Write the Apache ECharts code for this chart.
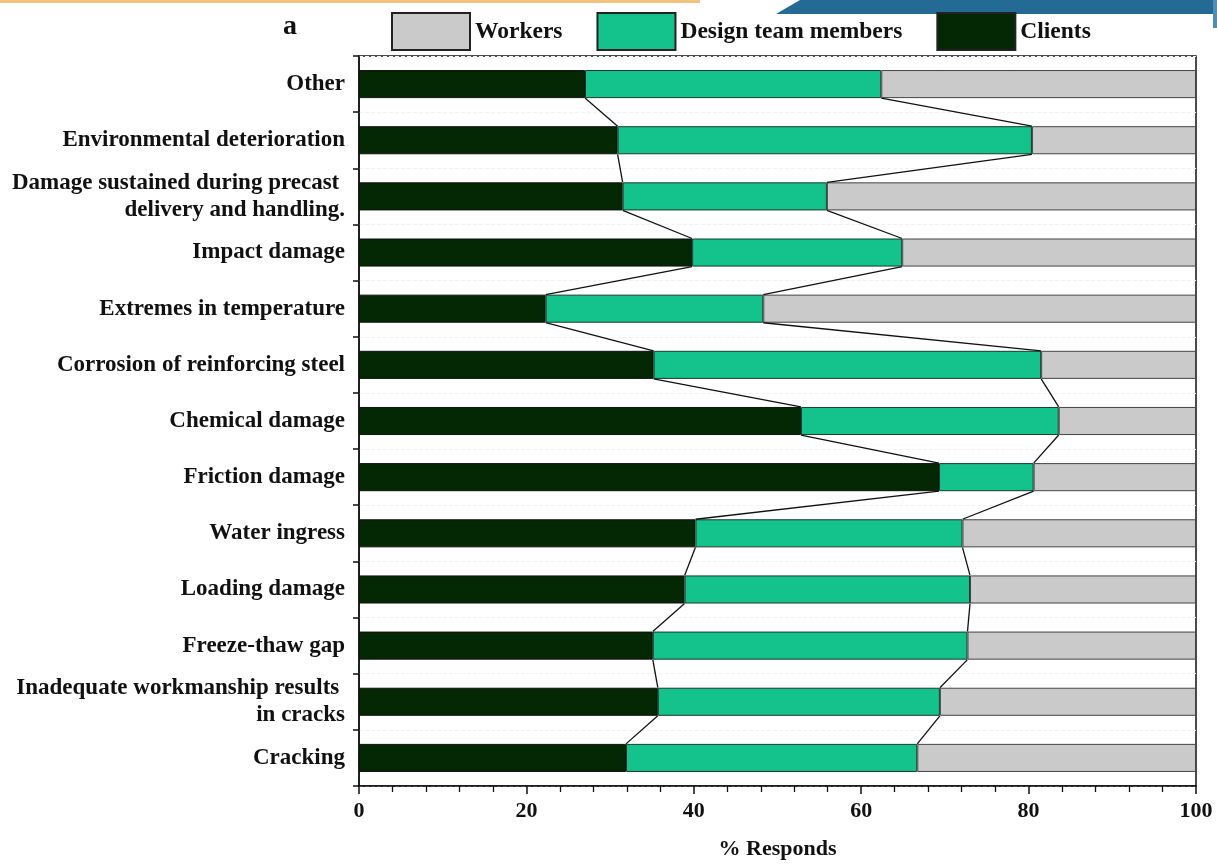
<!DOCTYPE html>
<html>
<head>
<meta charset="utf-8">
<script src="https://cdn.jsdelivr.net/npm/echarts@6/dist/echarts.min.js"></script>
<style>
  html, body { margin: 0; padding: 0; background: #fff; }
  #chart { width: 1217px; height: 865px; }
</style>
</head>
<body>
<div id="chart"></div>
<script>
// categories, top to bottom
var categories = [
  'Other',
  'Environmental deterioration',
  'Damage sustained during precast \ndelivery and handling.',
  'Impact damage',
  'Extremes in temperature',
  'Corrosion of reinforcing steel',
  'Chemical damage',
  'Friction damage',
  'Water ingress',
  'Loading damage',
  'Freeze-thaw gap',
  'Inadequate workmanship results \nin cracks',
  'Cracking'
];

// % responds per group
var clients = [27.0, 30.9, 31.5, 39.8, 22.3, 35.2, 52.8, 69.3, 40.2, 38.9, 35.1, 35.7, 31.9];
var designTeam = [35.4, 49.5, 24.4, 25.1, 26.0, 46.3, 30.8, 11.3, 31.9, 34.1, 37.6, 33.7, 34.8];
var workers = [37.6, 19.6, 44.1, 35.1, 51.7, 18.5, 16.4, 19.4, 27.9, 27.0, 27.3, 30.6, 33.3];

var xTicks = [0, 20, 40, 60, 80, 100];

// series lines between neighbouring bars (excel style)
function seriesLines(bound) {
  var out = [];
  for (var i = 0; i < bound.length - 1; i++) {
    out.push([bound[i], bound[i + 1], i, i + 1]);
  }
  return out;
}
var bound1 = clients.slice();
var bound2 = clients.map(function (v, i) { return v + designTeam[i]; });

var font = '"Liberation Serif", "Times New Roman", serif';

function renderLine(params, api) {
  var p0 = api.coord([api.value(0), api.value(2)]);
  var p1 = api.coord([api.value(1), api.value(3)]);
  var h = api.size([0, 1])[1] * 0.25;
  return {
    type: 'line',
    shape: { x1: p0[0], y1: p0[1] + h, x2: p1[0], y2: p1[1] - h },
    style: { stroke: '#111', lineWidth: 1.3 }
  };
}

var chart = echarts.init(document.getElementById('chart'));
chart.setOption({
  backgroundColor: '#fff',
  animation: false,
  textStyle: { fontFamily: font },
  graphic: [
    { type: 'rect', shape: { x: 0, y: 0, width: 700, height: 3 }, style: { fill: '#f4c27c' } },
    { type: 'polygon', shape: { points: [[776, 14], [800, 0], [1217, 0], [1217, 14]] }, style: { fill: '#236a95' } },
    { type: 'rect', shape: { x: 1213, y: 0, width: 4, height: 28 }, style: { fill: '#4f8db3' } },
    { type: 'text', left: 283, top: 13, style: { text: 'a', font: 'bold 28px ' + font, fill: '#111' } }
  ],
  legend: {
    data: ['Workers', 'Design team members', 'Clients'],
    left: 386,
    top: 7,
    itemWidth: 78,
    itemHeight: 37,
    itemGap: 34,
    icon: 'rect',
    itemStyle: { borderColor: '#222', borderWidth: 2 },
    textStyle: { fontFamily: font, fontWeight: 'bold', fontSize: 23.5, color: '#111' }
  },
  grid: {
    left: 359,
    right: 21,
    top: 56,
    bottom: 78,
    show: true,
    borderColor: '#111',
    borderWidth: 1.5
  },
  xAxis: {
    type: 'value',
    min: 0,
    max: 100,
    interval: 20,
    name: '% Responds',
    nameLocation: 'middle',
    nameGap: 52,
    nameTextStyle: { fontFamily: font, fontWeight: 'bold', fontSize: 22, color: '#111' },
    axisLine: { show: true, lineStyle: { color: '#111', width: 1.5 } },
    axisTick: { show: true, length: 8, lineStyle: { color: '#111', width: 1.5 } },
    minorTick: { show: true, splitNumber: 5, length: 6, lineStyle: { color: '#111', width: 1.3 } },
    axisLabel: {
      margin: 14,
      fontFamily: font, fontWeight: 'bold', fontSize: 22, color: '#111',
      formatter: function (v) { return xTicks.indexOf(v) >= 0 ? String(v) : ''; }
    },
    splitLine: { show: false }
  },
  yAxis: {
    type: 'category',
    inverse: true,
    data: categories,
    axisLine: { show: true, lineStyle: { color: '#111', width: 1.5 } },
    axisTick: { show: true, length: 6, lineStyle: { color: '#111', width: 1.5 } },
    axisLabel: {
      margin: 14,
      fontFamily: font, fontWeight: 'bold', fontSize: 23, color: '#111',
      lineHeight: 27, align: 'right'
    },
    splitLine: { show: true, lineStyle: { color: '#f2f2f2', type: 'dashed', width: 1 } }
  },
  series: [
    {
      name: 'Clients', type: 'bar', stack: 'all', data: clients,
      barWidth: '50%',
      itemStyle: { color: '#032803', borderColor: '#111', borderWidth: 1 }
    },
    {
      name: 'Design team members', type: 'bar', stack: 'all', data: designTeam,
      barWidth: '50%',
      itemStyle: { color: '#14c28b', borderColor: '#1a3a2a', borderWidth: 1 }
    },
    {
      name: 'Workers', type: 'bar', stack: 'all', data: workers,
      barWidth: '50%',
      itemStyle: { color: '#cacaca', borderColor: '#444', borderWidth: 1 }
    },
    {
      type: 'custom', name: 'line1', renderItem: renderLine,
      data: seriesLines(bound1), encode: { x: [0, 1], y: [2, 3] }, z: 5, silent: true
    },
    {
      type: 'custom', name: 'line2', renderItem: renderLine,
      data: seriesLines(bound2), encode: { x: [0, 1], y: [2, 3] }, z: 5, silent: true
    }
  ]
});
window.addEventListener('resize', function () {
  chart.resize();
});
</script>
</body>
</html>
